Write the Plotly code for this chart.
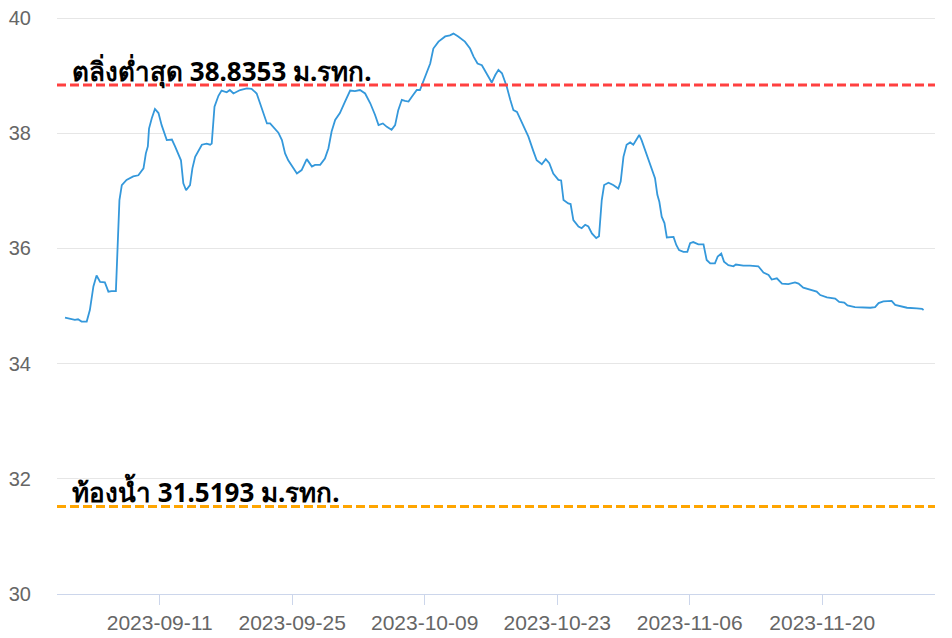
import plotly.graph_objects as go

# ---- data ----
dates = [
    "2023-09-01 00:00", "2023-09-02 01:00", "2023-09-02 09:00", "2023-09-02 18:00", "2023-09-03 07:00",
    "2023-09-03 15:00", "2023-09-04 00:00", "2023-09-04 08:00", "2023-09-04 17:00", "2023-09-05 05:00",
    "2023-09-05 14:00", "2023-09-05 22:00", "2023-09-06 09:00", "2023-09-06 13:00", "2023-09-06 18:00",
    "2023-09-07 00:00", "2023-09-07 12:00", "2023-09-08 05:00", "2023-09-08 18:00", "2023-09-09 07:00",
    "2023-09-09 13:00", "2023-09-09 18:00", "2023-09-09 21:00", "2023-09-10 04:00", "2023-09-10 12:00",
    "2023-09-10 21:00", "2023-09-11 05:00", "2023-09-11 18:00", "2023-09-12 07:00", "2023-09-12 15:00",
    "2023-09-12 23:00", "2023-09-13 06:00", "2023-09-13 12:00", "2023-09-13 19:00", "2023-09-14 05:00",
    "2023-09-14 11:00", "2023-09-14 18:00", "2023-09-15 02:00", "2023-09-15 11:00", "2023-09-15 23:00",
    "2023-09-16 08:00", "2023-09-16 12:00", "2023-09-16 19:00", "2023-09-17 05:00", "2023-09-17 13:00",
    "2023-09-18 02:00", "2023-09-18 10:00", "2023-09-18 19:00", "2023-09-19 12:00", "2023-09-20 05:00",
    "2023-09-20 17:00", "2023-09-21 06:00", "2023-09-21 19:00", "2023-09-22 08:00", "2023-09-22 16:00",
    "2023-09-23 05:00", "2023-09-23 13:00", "2023-09-23 22:00", "2023-09-24 06:00", "2023-09-24 14:00",
    "2023-09-25 03:00", "2023-09-25 12:00", "2023-09-26 00:00", "2023-09-26 13:00", "2023-09-27 02:00",
    "2023-09-27 10:00", "2023-09-27 23:00", "2023-09-28 11:00", "2023-09-28 20:00", "2023-09-29 04:00",
    "2023-09-29 13:00", "2023-09-30 01:00", "2023-09-30 14:00", "2023-10-01 03:00", "2023-10-01 15:00",
    "2023-10-02 04:00", "2023-10-02 17:00", "2023-10-03 06:00", "2023-10-03 18:00", "2023-10-04 03:00",
    "2023-10-04 14:00", "2023-10-05 00:00", "2023-10-05 12:00", "2023-10-05 21:00", "2023-10-06 05:00",
    "2023-10-06 14:00", "2023-10-06 22:00", "2023-10-07 07:00", "2023-10-07 15:00", "2023-10-08 04:00",
    "2023-10-08 12:00", "2023-10-09 01:00", "2023-10-09 14:00", "2023-10-09 22:00", "2023-10-10 11:00",
    "2023-10-11 04:00", "2023-10-11 16:00", "2023-10-12 01:00", "2023-10-12 13:00", "2023-10-13 06:00",
    "2023-10-13 19:00", "2023-10-14 04:00", "2023-10-14 14:00", "2023-10-15 01:00", "2023-10-15 14:00",
    "2023-10-16 02:00", "2023-10-16 11:00", "2023-10-16 19:00", "2023-10-17 04:00", "2023-10-17 16:00",
    "2023-10-18 01:00", "2023-10-18 09:00", "2023-10-18 18:00", "2023-10-19 06:00", "2023-10-19 23:00",
    "2023-10-20 12:00", "2023-10-20 20:00", "2023-10-21 09:00", "2023-10-21 19:00", "2023-10-22 04:00",
    "2023-10-22 14:00", "2023-10-23 03:00", "2023-10-23 10:00", "2023-10-23 16:00", "2023-10-24 04:00",
    "2023-10-24 10:00", "2023-10-24 17:00", "2023-10-25 06:00", "2023-10-25 14:00", "2023-10-25 23:00",
    "2023-10-26 07:00", "2023-10-26 16:00", "2023-10-27 03:00", "2023-10-27 10:00", "2023-10-27 17:00",
    "2023-10-27 23:00", "2023-10-28 10:00", "2023-10-28 22:00", "2023-10-29 11:00", "2023-10-29 17:00",
    "2023-10-30 00:00", "2023-10-30 08:00", "2023-10-30 17:00", "2023-10-31 01:00", "2023-10-31 10:00",
    "2023-10-31 16:00", "2023-10-31 22:00", "2023-11-01 07:00", "2023-11-01 15:00", "2023-11-02 00:00",
    "2023-11-02 08:00", "2023-11-02 14:00", "2023-11-02 19:00", "2023-11-03 01:00", "2023-11-03 08:00",
    "2023-11-03 14:00", "2023-11-03 22:00", "2023-11-04 07:00", "2023-11-04 14:00", "2023-11-04 21:00",
    "2023-11-05 08:00", "2023-11-05 18:00", "2023-11-06 01:00", "2023-11-06 09:00", "2023-11-06 22:00",
    "2023-11-07 11:00", "2023-11-07 19:00", "2023-11-08 04:00", "2023-11-08 16:00", "2023-11-08 23:00",
    "2023-11-09 08:00", "2023-11-09 15:00", "2023-11-10 02:00", "2023-11-10 15:00", "2023-11-10 21:00",
    "2023-11-11 16:00", "2023-11-12 09:00", "2023-11-13 06:00", "2023-11-13 19:00", "2023-11-14 08:00",
    "2023-11-14 16:00", "2023-11-15 05:00", "2023-11-15 18:00", "2023-11-16 10:00", "2023-11-17 03:00",
    "2023-11-17 12:00", "2023-11-18 00:00", "2023-11-18 17:00", "2023-11-19 10:00", "2023-11-19 19:00",
    "2023-11-20 12:00", "2023-11-21 09:00", "2023-11-21 19:00", "2023-11-22 08:00", "2023-11-22 16:00",
    "2023-11-23 11:00", "2023-11-24 08:00", "2023-11-25 02:00", "2023-11-25 14:00", "2023-11-25 23:00",
    "2023-11-26 11:00", "2023-11-27 08:00", "2023-11-27 17:00", "2023-11-28 10:00", "2023-11-28 23:00",
    "2023-11-30 00:00", "2023-11-30 13:00", "2023-11-30 17:00",
]

levels = [
    34.80, 34.76, 34.77, 34.73, 34.73,
    34.93, 35.34, 35.53, 35.42, 35.41,
    35.25, 35.26, 35.26, 35.97, 36.84,
    37.10, 37.19, 37.25, 37.27, 37.39,
    37.65, 37.77, 38.08, 38.26, 38.42,
    38.35, 38.14, 37.88, 37.89, 37.77,
    37.65, 37.53, 37.13, 37.01, 37.10,
    37.39, 37.59, 37.68, 37.80, 37.82,
    37.80, 37.82, 38.46, 38.65, 38.74,
    38.71, 38.75, 38.69, 38.75, 38.78,
    38.77, 38.69, 38.43, 38.17, 38.17,
    38.06, 38.01, 37.88, 37.65, 37.53,
    37.39, 37.30, 37.36, 37.55, 37.42,
    37.45, 37.45, 37.56, 37.74, 38.03,
    38.23, 38.35, 38.55, 38.74, 38.73,
    38.75, 38.69, 38.52, 38.32, 38.14,
    38.17, 38.11, 38.06, 38.14, 38.40,
    38.58, 38.56, 38.55, 38.63, 38.75,
    38.75, 38.98, 39.21, 39.47, 39.59,
    39.68, 39.70, 39.73, 39.68, 39.59,
    39.47, 39.33, 39.21, 39.18, 39.01,
    38.88, 39.01, 39.10, 39.04, 38.81,
    38.58, 38.40, 38.37, 38.20, 37.94,
    37.68, 37.53, 37.46, 37.55, 37.48,
    37.30, 37.19, 37.18, 36.84, 36.78,
    36.77, 36.49, 36.38, 36.35, 36.41,
    36.38, 36.26, 36.18, 36.21, 36.84,
    37.10, 37.14, 37.10, 37.04, 37.16,
    37.59, 37.80, 37.84, 37.80, 37.91,
    37.97, 37.88, 37.71, 37.56, 37.36,
    37.22, 36.93, 36.81, 36.55, 36.44,
    36.19, 36.19, 36.20, 36.06, 35.97,
    35.94, 35.94, 36.09, 36.11, 36.07,
    36.07, 35.80, 35.74, 35.74, 35.86,
    35.91, 35.77, 35.71, 35.69, 35.72,
    35.70, 35.70, 35.69, 35.58, 35.54,
    35.46, 35.48, 35.39, 35.38, 35.41,
    35.39, 35.32, 35.28, 35.25, 35.19,
    35.15, 35.13, 35.07, 35.06, 35.01,
    34.98, 34.97, 34.97, 34.98, 35.05,
    35.08, 35.09, 35.02, 34.99, 34.97,
    34.96, 34.95, 34.93,
]

bank_level = 38.8353
bed_level = 31.5193
bank_label = "ตลิ่งต่ำสุด 38.8353 ม.รทก."
bed_label = "ท้องน้ำ 31.5193 ม.รทก."

tick_dates = ["2023-09-11", "2023-09-25", "2023-10-09", "2023-10-23", "2023-11-06", "2023-11-20"]
y_ticks = [30, 32, 34, 36, 38, 40]
x_range = ["2023-08-31 03:40", "2023-12-01 22:00"]
y_range = [30, 40.035]

fig = go.Figure()
fig.add_trace(go.Scatter(
    x=dates, y=levels, mode="lines",
    line=dict(color="#3498db", width=1.8),
    hoverinfo="x+y", showlegend=False,
))

for lvl, col in [(bank_level, "#ff4040"), (bed_level, "#ffa500")]:
    fig.add_shape(type="line", xref="paper", x0=0, x1=1, yref="y", y0=lvl, y1=lvl,
                  line=dict(color=col, width=3, dash="9px,4px"))

outline = "1px 1px 0 #fff, -1px -1px 0 #fff, 1px -1px 0 #fff, -1px 1px 0 #fff"
for lvl, txt in [(bank_level, bank_label), (bed_level, bed_label)]:
    fig.add_annotation(
        x=0.015, xref="paper", xanchor="left",
        y=lvl, yref="y", yanchor="bottom", yshift=-6,
        text=f"<b>{txt}</b>", showarrow=False,
        font=dict(size=26, color="#000000", family="Tahoma, 'Noto Sans', 'DejaVu Sans', sans-serif", shadow=outline),
    )

fig.update_layout(
    width=944, height=630,
    margin=dict(l=49, r=17, t=8, b=44),
    paper_bgcolor="#ffffff", plot_bgcolor="#ffffff",
    font=dict(family="'Liberation Sans', Arial, sans-serif", color="#666666"),
)
fig.update_xaxes(
    type="date", range=x_range, automargin=False,
    tickmode="array", tickvals=tick_dates, ticktext=tick_dates,
    showgrid=False, showline=True, linecolor="#ccd6eb", linewidth=1,
    ticks="outside", ticklen=10, tickcolor="#ccd6eb", tickwidth=1,
    tickfont=dict(size=21, color="#666666"), zeroline=False,
    ticklabeloverflow="allow",
)
fig.update_yaxes(
    range=y_range, tickmode="array", tickvals=y_ticks, automargin=False,
    showgrid=True, gridcolor="#e6e6e6", gridwidth=1,
    showline=False, zeroline=False, ticks="",
    tickfont=dict(size=20, color="#666666"), ticklabelstandoff=25,
    ticklabeloverflow="allow",
)

fig.write_html("out.html")
